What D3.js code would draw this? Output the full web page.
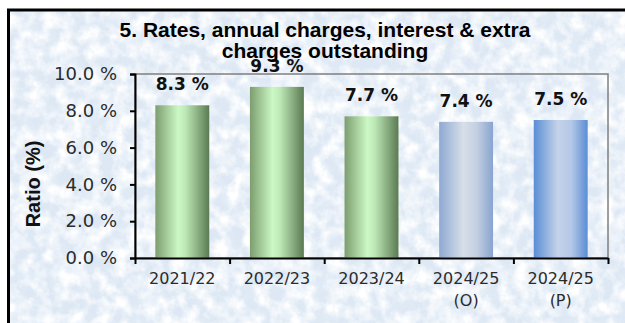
<!DOCTYPE html>
<html><head><meta charset="utf-8">
<script src="https://cdn.jsdelivr.net/npm/d3@7"></script>
<style>
html,body{margin:0;padding:0;background:#fff;}
svg{display:block;}
</style></head>
<body>
<script>
const categories = [["2021/22"],["2022/23"],["2023/24"],["2024/25","(O)"],["2024/25","(P)"]];
const values = [8.3, 9.3, 7.7, 7.4, 7.5];
const valueLabels = ["8.3 %","9.3 %","7.7 %","7.4 %","7.5 %"];
const barStyles = ["green","green","green","blueO","blueP"];
const yTicks = [0, 2, 4, 6, 8, 10];
const yTickLabels = ["0.0 %","2.0 %","4.0 %","6.0 %","8.0 %","10.0 %"];
const titleLines = ["5. Rates, annual charges, interest & extra", "charges outstanding"];
const yTitle = "Ratio (%)";

const W = 625, H = 323;
const svg = d3.select("body").append("svg").attr("width", W).attr("height", H);
const defs = svg.append("defs");

// mottled background texture (white patches and darker blue patches)
function mottle(id, freq, seed, rgb, a, b) {
  const f = defs.append("filter").attr("id",id).attr("x",0).attr("y",0).attr("width","100%").attr("height","100%");
  f.append("feTurbulence").attr("type","fractalNoise").attr("baseFrequency",freq).attr("numOctaves",4).attr("seed",seed).attr("result","n");
  f.append("feColorMatrix").attr("in","n").attr("type","matrix")
    .attr("values",`0 0 0 0 ${rgb[0]}  0 0 0 0 ${rgb[1]}  0 0 0 0 ${rgb[2]}  ${a} 0 0 0 ${b}`);
}
mottle("mWhite", "0.07", 3, [1,1,1], 2.4, -0.85);
mottle("mBlue", "0.05", 9, [0.78,0.855,0.94], 2.2, -0.95);

const gradDefs = {
  green: [[0,"#7d9d6f"],[0.42,"#cbf8c5"],[0.55,"#bfeab7"],[1,"#5b7a53"]],
  blueO: [[0,"#8ea9d2"],[0.45,"#d7dfe9"],[0.7,"#c3cfe1"],[1,"#88a4cf"]],
  blueP: [[0,"#5a8ed5"],[0.45,"#c5d3ea"],[0.7,"#b4c7e6"],[1,"#5a8dd5"]]
};
Object.entries(gradDefs).forEach(([k, stops]) => {
  const g = defs.append("linearGradient").attr("id","g_"+k).attr("x1",0).attr("x2",1).attr("y1",0).attr("y2",0);
  stops.forEach(s => g.append("stop").attr("offset", s[0]).attr("stop-color", s[1]));
});

// background + frame
svg.append("rect").attr("x",8).attr("y",10).attr("width",W).attr("height",H).attr("fill","#dde8f4");
svg.append("rect").attr("x",8).attr("y",10).attr("width",W).attr("height",H).attr("fill","#fff").attr("filter","url(#mBlue)");
svg.append("rect").attr("x",8).attr("y",10).attr("width",W).attr("height",H).attr("fill","#fff").attr("filter","url(#mWhite)");
svg.append("path").attr("d",`M8.5,${H+2} V10 H${W+2}`).attr("fill","none").attr("stroke","#000").attr("stroke-width",3);

const plotL = 135, plotR = 608, plotT = 74, plotB = 258;
const x = d3.scaleBand().domain(d3.range(categories.length)).range([plotL, plotR]).paddingInner(0.43).paddingOuter(0.215);
const y = d3.scaleLinear().domain([0, 10]).range([plotB, plotT]);

// plot area border
svg.append("rect").attr("x",plotL).attr("y",plotT).attr("width",plotR-plotL).attr("height",plotB-plotT)
  .attr("fill","none").attr("stroke","#7f7f7f").attr("stroke-width",1.5);

// bars
svg.append("g").selectAll("rect").data(values).join("rect")
  .attr("x",(d,i)=>x(i)).attr("width",x.bandwidth())
  .attr("y",d=>y(d)).attr("height",d=>y(0)-y(d))
  .attr("fill",(d,i)=>`url(#g_${barStyles[i]})`);

// y axis
const yAxis = d3.axisLeft(y).tickValues(yTicks).tickFormat((d,i)=>yTickLabels[i]).tickSize(5).tickPadding(13);
const gy = svg.append("g").attr("transform",`translate(${plotL},0)`).call(yAxis);
gy.select(".domain").attr("stroke","#000").attr("stroke-width",2);
gy.selectAll(".tick line").attr("stroke","#000").attr("stroke-width",2);
gy.selectAll(".tick text").attr("font-family","DejaVu Sans, sans-serif").attr("font-size",18).attr("fill","#2b2b2b");

// x axis
const xAxis = d3.axisBottom(d3.scaleLinear().domain([0,categories.length]).range([plotL,plotR]))
  .tickValues(d3.range(categories.length+1)).tickFormat("").tickSize(6).tickSizeOuter(0);
const gx = svg.append("g").attr("transform",`translate(0,${plotB})`).call(xAxis);
gx.select(".domain").attr("stroke","#000").attr("stroke-width",2);
gx.selectAll(".tick line").attr("stroke","#000").attr("stroke-width",2);
const xl = svg.append("g").selectAll("text").data(categories).join("text")
  .attr("x",(d,i)=>x(i)+x.bandwidth()/2).attr("y",plotB+26)
  .attr("text-anchor","middle").attr("font-family","DejaVu Sans, sans-serif").attr("font-size",16).attr("fill","#2b2b2b");
xl.selectAll("tspan").data(d=>d).join("tspan")
  .attr("x",function(){return this.parentNode.getAttribute("x");})
  .attr("dy",(d,j)=>j===0?0:22).text(d=>d);

// value labels
svg.append("g").selectAll("text").data(values).join("text")
  .attr("x",(d,i)=>x(i)+x.bandwidth()/2).attr("y",d=>y(d)-15)
  .attr("text-anchor","middle").attr("font-family","DejaVu Sans, sans-serif").attr("font-weight","bold")
  .attr("font-size",17).attr("fill","#111").text((d,i)=>valueLabels[i]);

// y title
svg.append("text").attr("transform","translate(40,184) rotate(-90)").attr("text-anchor","middle")
  .attr("font-family","Liberation Sans, Arial, sans-serif").attr("font-weight","bold").attr("font-size",20)
  .attr("fill","#111").text(yTitle);

// title
svg.append("g").selectAll("text").data(titleLines).join("text")
  .attr("x",325).attr("y",(d,i)=>37+i*21).attr("text-anchor","middle")
  .attr("font-family","Liberation Sans Narrow, Arial Narrow, sans-serif").attr("font-weight","bold")
  .attr("font-size",21).attr("fill","#000").text(d=>d);
</script>
</body></html>
